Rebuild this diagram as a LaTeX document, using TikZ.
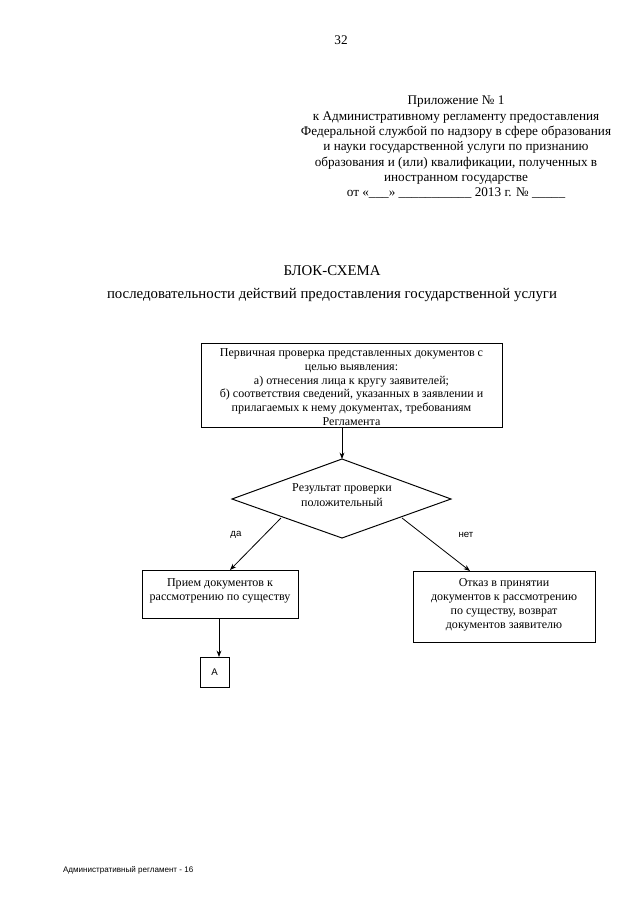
\documentclass[tikz,border=0pt]{standalone}
\usepackage{fontspec}
\setmainfont{Liberation Serif}
\newfontfamily\labelfont{Liberation Sans}
\usetikzlibrary{arrows.meta,shapes.geometric}
\begin{document}
\begin{tikzpicture}[x=0.9301pt,y=-0.9301pt,
  every node/.style={inner sep=0pt,outer sep=0pt},
  txt/.style={align=center,font=\fontsize{12.3}{14.26}\selectfont},
  btxt/.style={align=center,font=\fontsize{11.2}{12.8}\selectfont},
  lbl/.style={font=\labelfont\fontsize{9}{10}\selectfont},
  arr/.style={line width=0.75pt,-{Stealth[length=6pt,width=4.5pt]}},
  frame/.style={line width=0.9pt}]
\useasboundingbox (0,0) rectangle (640,905);
\fill[white] (0,0) rectangle (640,905);
\node[txt] (pg) at (341,40) {32};
\node[txt,anchor=north] (hdr) at (456,96) {Приложение № 1\\
к Административному регламенту предоставления\\
Федеральной службой по надзору в сфере образования\\
и науки государственной услуги по признанию\\
образования и (или) квалификации, полученных в\\
иностранном государстве\\
от «\_\_\_» \_\_\_\_\_\_\_\_\_\_\_ 2013 г. № \_\_\_\_\_};
\node[align=center,font=\fontsize{13.8}{21.4}\selectfont,anchor=north] (title) at (332,266) {БЛОК-СХЕМА\\
последовательности действий предоставления государственной услуги};
% box 1
\draw[frame] (201,343) rectangle (502,427);
\node[btxt] (b1) at (351.5,387) {Первичная проверка представленных документов с\\
целью выявления:\\
а) отнесения лица к кругу заявителей;\\
б) соответствия сведений, указанных в заявлении и\\
прилагаемых к нему документах, требованиям\\
Регламента};
\coordinate (b1s) at (342,427);
% diamond
\coordinate (dt) at (342,459);
\coordinate (dl) at (232,499);
\coordinate (dr) at (451,499);
\coordinate (db) at (342,538);
\draw[frame] (dt) -- (dr) -- (db) -- (dl) -- cycle;
\node[align=center,font=\fontsize{11.2}{14.5}\selectfont] (dtext) at (342,495) {Результат проверки\\положительный};
\draw[arr] (b1s) -- (dt);
% box 2
\draw[frame] (142,570) rectangle (298,618);
\node[btxt] (b2) at (220,591) {Прием документов к\\рассмотрению по существу};
% box 3
\draw[frame] (413,571) rectangle (595,642);
\node[align=center,font=\fontsize{11.2}{13}\selectfont] (b3) at (504,605) {Отказ в принятии\\документов к рассмотрению\\по существу, возврат\\документов заявителю};
% branches
\coordinate (dls) at (281,518);
\coordinate (drs) at (402,518);
\coordinate (b2t) at (230,570);
\coordinate (b3t) at (470,571);
\draw[arr] (dls) -- (b2t);
\draw[arr] (drs) -- (b3t);
\node[lbl] (da) at (236,535) {да};
\node[lbl] (net) at (466,535) {нет};
% A
\draw[frame] (200,657) rectangle (229,687);
\node[lbl] (A) at (214.5,672) {А};
\coordinate (b2b) at (219,618);
\coordinate (At) at (219,657);
\draw[arr] (b2b) -- (At);
% footer
\node[font=\labelfont\fontsize{7.5}{9}\selectfont,anchor=west] (foot) at (63,870) {Административный регламент - 16};
\end{tikzpicture}
\end{document}
